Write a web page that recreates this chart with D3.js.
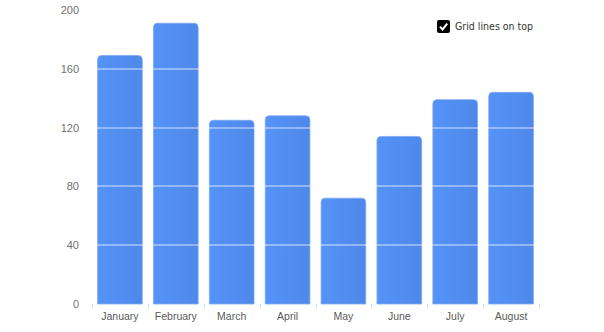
<!DOCTYPE html>
<html>
<head>
<meta charset="utf-8">
<script src="https://cdn.jsdelivr.net/npm/d3@7"></script>
<style>
  body { margin: 0; background: #fff; }
  svg { display: block; }
</style>
</head>
<body>
<svg id="chart"></svg>
<script>
// months on the category axis and the value of each bar
const months = ["January", "February", "March", "April", "May", "June", "July", "August"];
const values = [169, 191, 125, 128, 72, 114, 139, 144];
const yTicks = [0, 40, 80, 120, 160, 200];

const width = 604, height = 332;
const margin = {top: 10, right: 65, bottom: 28, left: 92};

const svg = d3.select("#chart")
    .attr("width", width)
    .attr("height", height)
    .attr("font-family", "'DejaVu Sans Condensed', 'DejaVu Sans', sans-serif");

const x = d3.scaleBand(months, [margin.left, width - margin.right])
    .paddingInner(0.2)
    .paddingOuter(0.1);
const y = d3.scaleLinear([0, 200], [height - margin.bottom, margin.top]);

const defs = svg.append("defs");
const grad = defs.append("linearGradient")
    .attr("id", "barGrad")
    .attr("x1", "0%").attr("x2", "100%")
    .attr("y1", "0%").attr("y2", "0%");
grad.append("stop").attr("offset", "0%").attr("stop-color", "#5593f7");
grad.append("stop").attr("offset", "100%").attr("stop-color", "#4f88e9");

// bar shape with rounded top corners
function barPath(x0, y0, w, h, r) {
  r = Math.min(r, h, w / 2);
  return `M${x0},${y0 + h}V${y0 + r}Q${x0},${y0} ${x0 + r},${y0}` +
         `H${x0 + w - r}Q${x0 + w},${y0} ${x0 + w},${y0 + r}V${y0 + h}Z`;
}

svg.append("g")
  .selectAll("path")
  .data(values)
  .join("path")
    .attr("d", (d, i) => barPath(x(months[i]), y(d), x.bandwidth(), y(0) - y(d), 4))
    .attr("fill", "url(#barGrad)")
    .attr("stroke", "#7fa9f3")
    .attr("stroke-width", 0.8);

// grid lines drawn on top of bars
svg.append("g")
  .selectAll("line")
  .data(yTicks.filter(d => d > 0))
  .join("line")
    .attr("x1", margin.left)
    .attr("x2", width - margin.right)
    .attr("y1", d => Math.round(y(d)))
    .attr("y2", d => Math.round(y(d)))
    .attr("stroke", "#ffffff")
    .attr("stroke-opacity", 0.5)
    .attr("stroke-width", 1.6);

// y axis
const yAxis = svg.append("g")
    .attr("transform", `translate(${margin.left},0)`)
    .call(d3.axisLeft(y).tickValues(yTicks).tickSize(0).tickPadding(13));
yAxis.select(".domain").remove();
yAxis.selectAll("text")
    .attr("fill", "#707070")
    .attr("font-size", 11);

// x axis
const bounds = months.map(m => x(m) - x.step() * x.paddingInner() / 2);
bounds.push(x(months[months.length - 1]) + x.bandwidth() + x.step() * x.paddingInner() / 2);
svg.append("g")
  .selectAll("line")
  .data(bounds)
  .join("line")
    .attr("x1", d => Math.round(d) + 0.5)
    .attr("x2", d => Math.round(d) + 0.5)
    .attr("y1", y(0))
    .attr("y2", y(0) + 4)
    .attr("stroke", "#dddddd");

const xAxis = svg.append("g")
    .attr("transform", `translate(0,${y(0)})`)
    .call(d3.axisBottom(x).tickSize(0).tickPadding(9));
xAxis.select(".domain").remove();
xAxis.selectAll("text")
    .attr("fill", "#5a5a5a")
    .attr("font-size", 10.5);

// legend checkbox
const leg = svg.append("g").attr("transform", "translate(437,20)");
leg.append("rect")
    .attr("width", 13).attr("height", 13)
    .attr("rx", 2)
    .attr("fill", "#000");
leg.append("path")
    .attr("d", "M3,6.8L5.6,9.4L10.2,3.6")
    .attr("fill", "none")
    .attr("stroke", "#fff")
    .attr("stroke-width", 2);
leg.append("text")
    .attr("x", 18).attr("y", 10)
    .attr("font-size", 10.5)
    .attr("fill", "#333")
    .text("Grid lines on top");
</script>
</body>
</html>
